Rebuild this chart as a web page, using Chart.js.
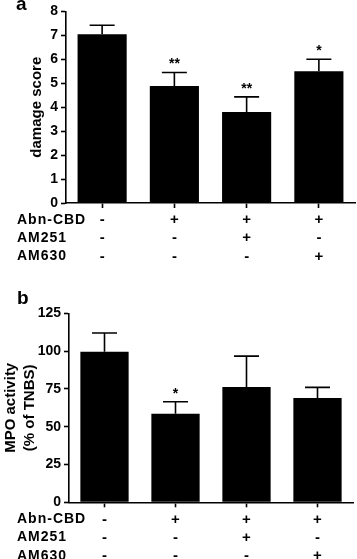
<!DOCTYPE html>
<html>
<head>
<meta charset="utf-8">
<script src="https://cdn.jsdelivr.net/npm/chart.js@4/dist/chart.umd.min.js"></script>
<style>
  html, body { margin: 0; padding: 0; background: #fff; }
  body { width: 357px; height: 559px; position: relative; overflow: hidden; }
  .wrap { position: absolute; left: 0; width: 357px; }
  #wa { top: 0; height: 270px; }
  #wb { top: 275px; height: 284px; }
  canvas { display: block; }
</style>
</head>
<body>
<div class="wrap" id="wa"><canvas id="ca" width="357" height="270"></canvas></div>
<div class="wrap" id="wb"><canvas id="cb" width="357" height="284"></canvas></div>
<script>
// ---- data ----
const rowNames = ['Abn-CBD', 'AM251', 'AM630'];
const abnCbd = ['-', '+', '+', '+'];
const am251  = ['-', '-', '+', '-'];
const am630  = ['-', '-', '-', '+'];

const damageMean = [7.05, 4.88, 3.80, 5.50];
const damageSem  = [0.37, 0.57, 0.63, 0.50];
const damageSig  = ['', '**', '**', '*'];
const damageTicks = { max: 8, step: 1 };

const mpoMean = [99.6, 58.5, 76.3, 69.0];
const mpoSem  = [12.4, 8.0, 20.4, 7.0];
const mpoSig  = ['', '*', '', ''];
const mpoTicks = { max: 125, step: 25 };

const panelA = 'a';
const panelB = 'b';
const titleA = 'damage score';
const titleB = ['MPO activity', '(% of TNBS)'];

// ---- rendering ----
const FONT = "'Liberation Sans', Arial, Helvetica, sans-serif";
Chart.defaults.font.family = FONT;
Chart.defaults.color = '#000';

const TICK_LEN = 5;
const X_PAD = 3;
const ROW_LH = 18.2;

const labels = abnCbd.map((v, i) => [abnCbd[i], am251[i], am630[i]]);

const overlayPlugin = {
  id: 'overlay',
  afterDatasetsDraw(chart, args, opts) {
    const ctx = chart.ctx;
    const meta = chart.getDatasetMeta(0);
    const ys = chart.scales.y;
    ctx.save();
    ctx.strokeStyle = '#000';
    ctx.lineWidth = 1.6;
    opts.mean.forEach((m, i) => {
      const bar = meta.data[i];
      const x = bar.x;
      const yBar = ys.getPixelForValue(m);
      const yTop = ys.getPixelForValue(m + opts.sem[i]);
      ctx.beginPath();
      ctx.moveTo(x, yBar);
      ctx.lineTo(x, yTop);
      ctx.moveTo(x - 12.5, yTop);
      ctx.lineTo(x + 12.5, yTop);
      ctx.stroke();
      if (opts.sig[i]) {
        ctx.fillStyle = '#000';
        ctx.font = 'bold 14px ' + FONT;
        ctx.textAlign = 'center';
        ctx.textBaseline = 'alphabetic';
        ctx.fillText(opts.sig[i], x, yTop - 4);
      }
    });
    ctx.restore();
  },
  afterDraw(chart, args, opts) {
    const ctx = chart.ctx;
    const xs = chart.scales.x;
    ctx.save();
    ctx.fillStyle = '#000';
    // row headers
    ctx.font = 'bold 14px ' + FONT;
    try { ctx.letterSpacing = '1px'; } catch (e) {}
    ctx.textAlign = 'left';
    ctx.textBaseline = 'middle';
    rowNames.forEach((n, k) => {
      ctx.fillText(n, 17, xs.top + TICK_LEN + X_PAD + ROW_LH / 2 + k * ROW_LH);
    });
    try { ctx.letterSpacing = '0px'; } catch (e) {}
    // panel letter
    ctx.font = 'bold 19px ' + FONT;
    ctx.textBaseline = 'alphabetic';
    ctx.fillText(opts.panel, opts.panelX, opts.panelY);
    ctx.restore();
  }
};

function makeChart(id, mean, sem, sig, ticks, title, titlePad, yWidth, xHeight, padTop, padRight, panel, panelX, panelY, titleLH) {
  return new Chart(document.getElementById(id), {
    type: 'bar',
    data: {
      labels: labels,
      datasets: [{
        data: mean,
        backgroundColor: '#000',
        borderWidth: 0,
        barPercentage: 0.68,
        categoryPercentage: 1.0
      }]
    },
    options: {
      responsive: false,
      animation: false,
      events: [],
      layout: { padding: { left: 0, right: padRight, top: padTop, bottom: 0 } },
      plugins: {
        legend: { display: false },
        tooltip: { enabled: false },
        overlay: { mean: mean, sem: sem, sig: sig, panel: panel, panelX: panelX, panelY: panelY }
      },
      scales: {
        x: {
          offset: true,
          grid: { display: true, offset: false, drawOnChartArea: false, drawTicks: true, tickLength: TICK_LEN, tickWidth: 1.6, tickColor: '#000' },
          border: { display: true, color: '#000', width: 1.6 },
          ticks: { color: '#000', padding: X_PAD, font: { size: 15, weight: 'bold', lineHeight: ROW_LH / 15 }, maxRotation: 0, autoSkip: false },
          afterFit(s) { s.height = xHeight; }
        },
        y: {
          min: 0, max: ticks.max,
          grid: { display: true, drawOnChartArea: false, drawTicks: true, tickLength: TICK_LEN, tickWidth: 1.6, tickColor: '#000' },
          border: { display: true, color: '#000', width: 1.6 },
          ticks: { stepSize: ticks.step, color: '#000', padding: 3, font: { size: 14, weight: 'bold' } },
          title: { display: true, text: title, color: '#000', font: { size: 15, weight: 'bold', lineHeight: titleLH }, padding: { top: titlePad, bottom: 0 } },
          afterFit(s) { s.width = yWidth; }
        }
      }
    },
    plugins: [overlayPlugin]
  });
}

makeChart('ca', damageMean, damageSem, damageSig, damageTicks, titleA, 28, 66, 67, 11, 2, panelA, 16, 10, 1.2);
makeChart('cb', mpoMean, mpoSem, mpoSig, mpoTicks, titleB, 1.5, 69, 56.7, 38.3, 4, panelB, 17, 29, 1.27);
</script>
</body>
</html>
